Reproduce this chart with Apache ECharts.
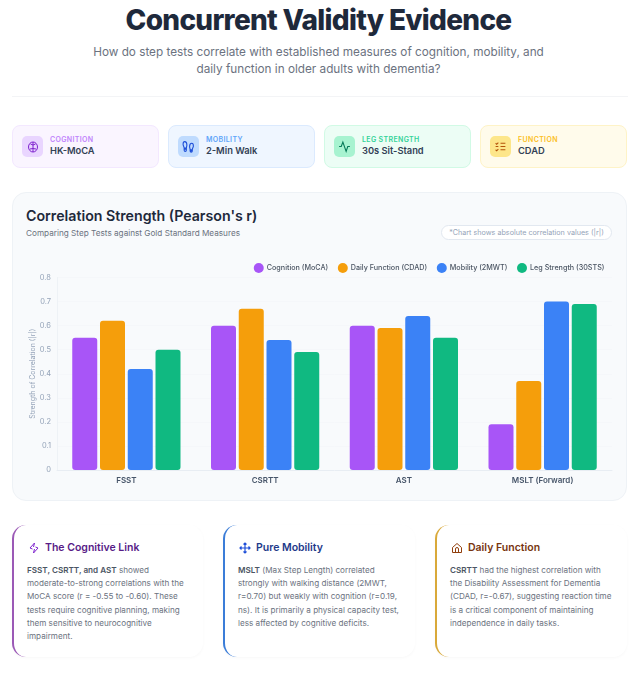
<!DOCTYPE html>
<html><head><meta charset="utf-8">
<script src="https://cdn.jsdelivr.net/npm/echarts@6/dist/echarts.min.js"></script>
<style>
*{box-sizing:border-box;margin:0;padding:0}
html,body{width:641px;height:680px;background:#fff;font-family:Inter,sans-serif;overflow:hidden;position:relative}
h1{position:absolute;left:0;width:637px;top:0;text-align:center;font-size:28px;line-height:40px;font-weight:800;color:#1e293b;letter-spacing:-.7px}
.sub{position:absolute;left:60px;width:517px;top:44px;text-align:center;font-size:11.75px;line-height:17px;color:#6b7280}
.rule{position:absolute;left:12px;width:616px;top:96px;height:1px;background:#f3f4f6}
.kpi{position:absolute;top:125px;height:43px;width:147px;border-radius:8px;border:1px solid}
.ico{position:absolute;left:9px;top:10px;width:21px;height:21px;border-radius:5px;display:flex;align-items:center;justify-content:center}
.k1{position:absolute;left:37px;top:9px;font-size:7px;line-height:9px;font-weight:600;letter-spacing:.35px}
.k2{position:absolute;left:37px;top:18px;font-size:9.3px;line-height:14px;font-weight:600;color:#334155}
.panel{position:absolute;left:12px;top:192px;width:615px;height:309px;border-radius:14px;background:#f8fafc;border:1px solid #eef2f6}
.ptitle{position:absolute;left:26px;top:206px;font-size:14.2px;line-height:19px;font-weight:600;color:#1e293b}
.psub{position:absolute;left:26px;top:227px;font-size:8.2px;line-height:12px;color:#6b7280}
.pill{position:absolute;left:441px;top:225px;width:171px;height:15px;border-radius:8px;background:#fff;border:1px solid #e2e8f0;font-size:7.2px;line-height:13px;text-align:center;color:#94a3b8;white-space:nowrap}
#chart{position:absolute;left:12px;top:255px;width:615px;height:240px}
.note{position:absolute;top:525px;height:132px;border-radius:14px;background:#fff;border-left:2px solid;box-shadow:0 1px 3px rgba(15,23,42,.03)}
.nt{position:absolute;left:14px;top:15px;display:flex;align-items:center;gap:5px;font-size:10.5px;line-height:16px;font-weight:600;white-space:nowrap}
.nb{position:absolute;left:13px;top:39px;font-size:8.13px;line-height:13.2px;color:#6b7280;white-space:nowrap}
.nb b{font-weight:600;color:#4b5563}
</style></head><body>
<h1>Concurrent Validity Evidence</h1>
<div class="sub">How do step tests correlate with established measures of cognition, mobility, and<br>daily function in older adults with dementia?</div>
<div class="rule"></div>

<div class="kpi" style="left:12px;background:#faf5ff;border-color:#f3e8ff">
 <div class="ico" style="background:#e9d5ff"><svg width="12" height="12" viewBox="0 0 24 24" fill="none" stroke="#7e22ce" stroke-width="2"><ellipse cx="12" cy="12" rx="9" ry="10"/><path d="M12 2v20M12 8 7 6M12 8l5-2M12 15l-6 1M12 15l6 1"/></svg></div>
 <div class="k1" style="color:#c084fc">COGNITION</div><div class="k2">HK-MoCA</div></div>
<div class="kpi" style="left:168px;background:#eff6ff;border-color:#dbeafe">
 <div class="ico" style="background:#bfdbfe"><svg width="13" height="13" viewBox="0 0 24 24" fill="none" stroke="#1d4ed8" stroke-width="2"><path d="M5 3c3 0 4 3 4 6s-1 4-1 6H4c0-3-2-4-2-7s1-5 3-5zM4 17h4v2a2 2 0 0 1-4 0zM18 6c-3 0-4 3-4 6s1 4 1 6h4c0-3 2-4 2-7s-1-5-3-5zM15 20h4v.5a2 2 0 0 1-4 0z"/></svg></div>
 <div class="k1" style="color:#60a5fa">MOBILITY</div><div class="k2">2-Min Walk</div></div>
<div class="kpi" style="left:324px;background:#ecfdf5;border-color:#d1fae5">
 <div class="ico" style="background:#a7f3d0"><svg width="13" height="13" viewBox="0 0 24 24" fill="none" stroke="#047857" stroke-width="2"><path d="M2 12h4l3-8 6 17 3-9h4"/></svg></div>
 <div class="k1" style="color:#34d399">LEG STRENGTH</div><div class="k2">30s Sit-Stand</div></div>
<div class="kpi" style="left:480px;background:#fffbeb;border-color:#fef3c7">
 <div class="ico" style="background:#fde68a"><svg width="13" height="13" viewBox="0 0 24 24" fill="none" stroke="#b45309" stroke-width="2"><path d="M12 6h9M12 12h9M12 18h9M3 6l2 2 3-3M3 18l2 2 3-3M3 12h5"/></svg></div>
 <div class="k1" style="color:#fbbf24">FUNCTION</div><div class="k2">CDAD</div></div>

<div class="panel"></div>
<div class="ptitle">Correlation Strength (Pearson's r)</div>
<div class="psub">Comparing Step Tests against Gold Standard Measures</div>
<div class="pill">*Chart shows absolute correlation values (|r|)</div>
<div id="chart"></div>

<div class="note" style="left:12px;width:191px;border-color:#9b59b6">
 <div class="nt" style="color:#581c87"><svg width="12" height="12" viewBox="0 0 24 24" fill="none" stroke="#7e22ce" stroke-width="2"><path d="M13 2 4 12l5 2M11 22l9-10-5-2M13 2l-2 8M11 22l2-8"/></svg>The Cognitive Link</div>
 <div class="nb"><b>FSST, CSRTT, and AST</b> showed<br>moderate-to-strong correlations with the<br>MoCA score (r = -0.55 to -0.60). These<br>tests require cognitive planning, making<br>them sensitive to neurocognitive<br>impairment.</div></div>
<div class="note" style="left:223px;width:192px;border-color:#3b7dd8">
 <div class="nt" style="color:#1e3a8a"><svg width="12" height="12" viewBox="0 0 24 24" fill="none" stroke="#1d4ed8" stroke-width="2.4"><path d="M12 2v20M2 12h20M9 5l3-3 3 3M9 19l3 3 3-3M5 9l-3 3 3 3M19 9l3 3-3 3"/></svg>Pure Mobility</div>
 <div class="nb"><b>MSLT</b> (Max Step Length) correlated<br>strongly with walking distance (2MWT,<br>r=0.70) but weakly with cognition (r=0.19,<br>ns). It is primarily a physical capacity test,<br>less affected by cognitive deficits.</div></div>
<div class="note" style="left:435px;width:192px;border-color:#d9a93a">
 <div class="nt" style="color:#78350f"><svg width="12" height="12" viewBox="0 0 24 24" fill="none" stroke="#92400e" stroke-width="2"><path d="M3 11 12 3l9 8v10H3zM9 21v-7a3 3 0 0 1 6 0v7"/></svg>Daily Function</div>
 <div class="nb"><b>CSRTT</b> had the highest correlation with<br>the Disability Assessment for Dementia<br>(CDAD, r=-0.67), suggesting reaction time<br>is a critical component of maintaining<br>independence in daily tasks.</div></div>

<script>
const categories = ['FSST','CSRTT','AST','MSLT (Forward)'];
const cognition = [0.55,0.60,0.60,0.19];
const dailyFunction = [0.62,0.67,0.59,0.37];
const mobility = [0.42,0.54,0.64,0.70];
const legStrength = [0.50,0.49,0.55,0.69];
const seriesNames = ['Cognition (MoCA)','Daily Function (CDAD)','Mobility (2MWT)','Leg Strength (30STS)'];
const seriesColors = ['#a855f7','#f59e0b','#3b82f6','#10b981'];
const seriesValues = [cognition,dailyFunction,mobility,legStrength];

const chart = echarts.init(document.getElementById('chart'),null,{renderer:'canvas'});
chart.setOption({
  animation:false,
  textStyle:{fontFamily:'Inter'},
  legend:{top:3,right:17.5,icon:'circle',itemWidth:10,itemHeight:10,itemGap:9.6,
    textStyle:{fontSize:7.2,color:'#4b5563',fontWeight:500,padding:[0,0,0,-2]},data:seriesNames},
  grid:{left:45,right:15,top:22.5,bottom:25},
  xAxis:{type:'category',data:categories,
    axisLine:{lineStyle:{color:'#e8edf3'}},axisTick:{show:false},
    axisLabel:{fontSize:8,fontWeight:600,color:'#475569',margin:7}},
  yAxis:{type:'value',min:0,max:0.8,interval:0.1,
    name:'Strength of Correlation (|r|)',nameLocation:'middle',nameGap:21,nameMoveOverlap:false,
    nameTextStyle:{fontSize:7,color:'#94a3b8'},
    axisLine:{show:true,lineStyle:{color:'#eef2f6'}},axisTick:{show:false},
    axisLabel:{fontSize:7.5,color:'#94a3b8',margin:6},
    splitLine:{lineStyle:{color:'#f5f7fa'}}},
  series:seriesNames.map((n,i)=>({name:n,type:'bar',data:seriesValues[i],
    barWidth:25,barGap:'11%',barCategoryGap:'22%',
    itemStyle:{color:seriesColors[i],borderRadius:3}}))
});
</script>
</body></html>
